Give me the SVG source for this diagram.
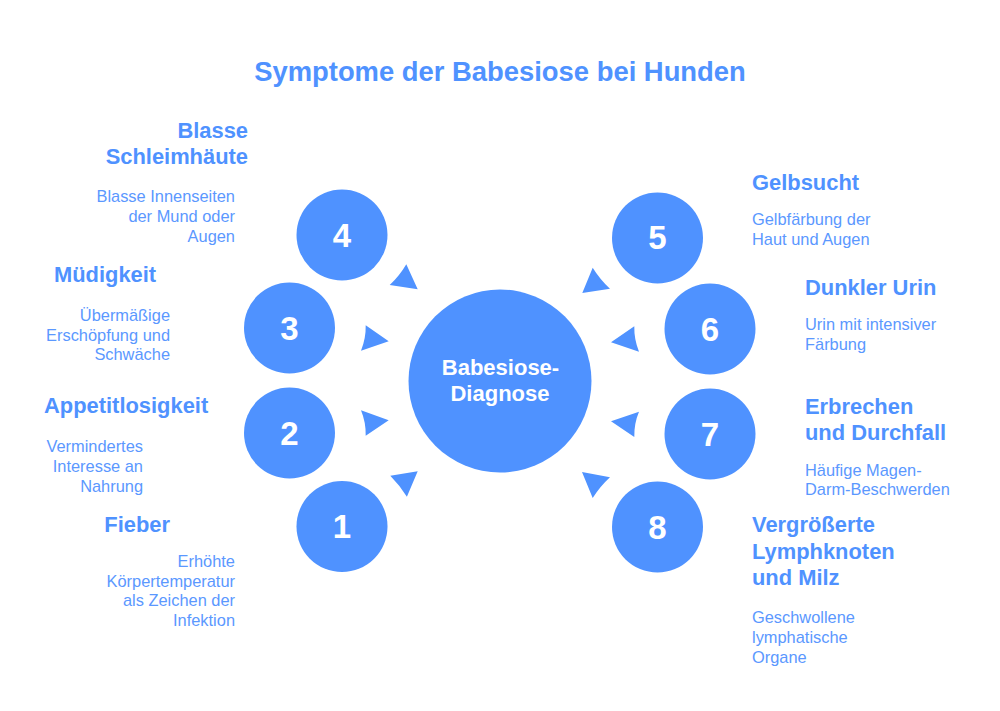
<svg xmlns="http://www.w3.org/2000/svg" width="1000" height="711" viewBox="0 0 1000 711">
<style>
text{font-family:"Liberation Sans",Arial,sans-serif;fill:#4f92ff}
.t{font-size:27.4px;font-weight:bold}
.h{font-size:21.9px;font-weight:bold}
.d{font-size:16.4px;fill:#5b98ff}
.n{font-size:33px;font-weight:bold;fill:#fff;text-anchor:middle}
.c{font-size:22px;font-weight:bold;fill:#fff;text-anchor:middle}
.e{text-anchor:end}
circle,path{fill:#4f92ff}
</style>
<rect width="1000" height="711" fill="#fff"/>
<text id="title" class="t" x="500" y="81" text-anchor="middle">Symptome der Babesiose bei Hunden</text>
<g id="connectors">
<path d="M417.7 289.3L406.3 264.3Q399.5 276 389.7 285Z"/>
<path d="M388.7 341.3L365.7 325.3Q366 338.5 361 350.7Z"/>
<path d="M388.7 420.3L361 410.3Q366 422.5 365.7 435.7Z"/>
<path d="M417.7 471.3L390.3 475.7Q399.5 485 406.9 496.7Z"/>
<path d="M582.3 293L592.7 267.7Q600 279.5 610 288.7Z"/>
<path d="M611 342.3L634.3 326.3Q634 339.5 639 351.7Z"/>
<path d="M611 421.3L639 411.7Q634 423.5 634.3 437Z"/>
<path d="M582 472L610 477.3Q600 486.5 592.7 498Z"/>
</g>
<g id="center"><circle cx="500" cy="381" r="91.5"/><text class="c" x="500.5" y="375">Babesiose-</text><text class="c" x="500" y="401">Diagnose</text></g>
<g id="node1"><circle cx="342" cy="526.5" r="45.5"/><text class="n" x="342" y="538">1</text>
<text class="h e" x="170" y="532">Fieber</text>
<text class="d e" x="235" y="567">Erhöhte</text><text class="d e" x="235" y="587">Körpertemperatur</text><text class="d e" x="235" y="606">als Zeichen der</text><text class="d e" x="235" y="626">Infektion</text></g>
<g id="node2"><circle cx="289.5" cy="433" r="45.5"/><text class="n" x="289.5" y="445">2</text>
<text class="h" x="44" y="413">Appetitlosigkeit</text>
<text class="d e" x="143" y="452">Vermindertes</text><text class="d e" x="143" y="472">Interesse an</text><text class="d e" x="143" y="492">Nahrung</text></g>
<g id="node3"><circle cx="289.5" cy="328" r="45.5"/><text class="n" x="289.5" y="340">3</text>
<text class="h" x="54" y="282">Müdigkeit</text>
<text class="d e" x="170" y="321">Übermäßige</text><text class="d e" x="170" y="341">Erschöpfung und</text><text class="d e" x="170" y="360">Schwäche</text></g>
<g id="node4"><circle cx="342" cy="235" r="45.5"/><text class="n" x="342" y="247">4</text>
<text class="h e" x="248" y="138">Blasse</text><text class="h e" x="248" y="164">Schleimhäute</text>
<text class="d e" x="235" y="202">Blasse Innenseiten</text><text class="d e" x="235" y="222">der Mund oder</text><text class="d e" x="235" y="242">Augen</text></g>
<g id="node5"><circle cx="657.5" cy="238" r="45.5"/><text class="n" x="657.5" y="249">5</text>
<text class="h" x="752" y="190">Gelbsucht</text>
<text class="d" x="752" y="225">Gelbfärbung der</text><text class="d" x="752" y="245">Haut und Augen</text></g>
<g id="node6"><circle cx="710" cy="329" r="45.5"/><text class="n" x="710" y="341">6</text>
<text class="h" x="805" y="295">Dunkler Urin</text>
<text class="d" x="805" y="330">Urin mit intensiver</text><text class="d" x="805" y="350">Färbung</text></g>
<g id="node7"><circle cx="710" cy="434" r="45.5"/><text class="n" x="710" y="446">7</text>
<text class="h" x="805" y="414">Erbrechen</text><text class="h" x="805" y="440">und Durchfall</text>
<text class="d" x="805" y="476">Häufige Magen-</text><text class="d" x="805" y="495">Darm-Beschwerden</text></g>
<g id="node8"><circle cx="657.5" cy="527" r="45.5"/><text class="n" x="657.5" y="539">8</text>
<text class="h" x="752" y="532">Vergrößerte</text><text class="h" x="752" y="559">Lymphknoten</text><text class="h" x="752" y="585">und Milz</text>
<text class="d" x="752" y="623">Geschwollene</text><text class="d" x="752" y="643">lymphatische</text><text class="d" x="752" y="663">Organe</text></g>
</svg>
